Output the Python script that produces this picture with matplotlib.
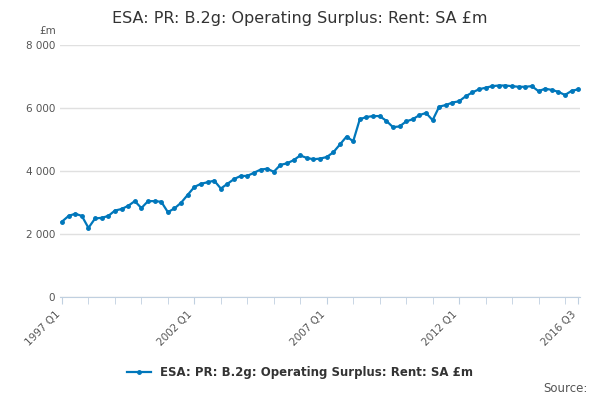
import numpy as np
import matplotlib
matplotlib.use("Agg")
import matplotlib.pyplot as plt

values = [2400, 2580, 2650, 2580,
          2200, 2500, 2520, 2580,
          2750, 2800, 2900, 3050,
          2830, 3050, 3050, 3030,
          2700, 2820, 3000, 3250,
          3500, 3600, 3650, 3700,
          3450, 3600, 3750, 3850,
          3850, 3950, 4050, 4080,
          3980, 4200, 4250, 4350,
          4500, 4420, 4380, 4400,
          4450, 4600, 4850, 5100,
          4950, 5650, 5720, 5750,
          5750, 5600, 5400, 5420,
          5580, 5650, 5780, 5850,
          5620, 6050, 6100, 6180,
          6220, 6380, 6500, 6600,
          6650, 6700, 6720, 6720,
          6700, 6680, 6680, 6700,
          6540, 6620, 6580, 6520,
          6420, 6550, 6600]
tick_pos = [0, 20, 40, 60, 78]
tick_labels = ["1997 Q1", "2002 Q1", "2007 Q1", "2012 Q1", "2016 Q3"]
series_name = "ESA: PR: B.2g: Operating Surplus: Rent: SA £m"

fig = plt.figure(figsize=(6, 4), dpi=100)
ax = fig.add_axes([0.1, 0.257, 0.867, 0.63])
x = np.arange(len(values))
ax.plot(x, values, color="#0077bb", lw=1.6, marker="o", ms=2.5, label=series_name)

ax.set_ylim(0, 8000)
ax.set_xlim(-0.3, 78.3)
ax.set_yticks([0, 2000, 4000, 6000, 8000])
ax.set_yticklabels(["0", "2 000", "4 000", "6 000", "8 000"], fontsize=7.5, color="#555555")
ax.set_xticks(tick_pos)
ax.set_xticklabels(tick_labels, rotation=45, ha="right", fontsize=7.5, color="#555555")
ax.set_xticks(range(0, 79, 4), minor=True)
ax.grid(True, axis="y", color="#e0e0e0", lw=1)
ax.tick_params(axis="y", length=0)
ax.tick_params(axis="x", which="both", length=5, color="#c0d0e0")
for s in ["top", "right", "left"]:
    ax.spines[s].set_visible(False)
ax.spines["bottom"].set_color("#c0d0e0")

fig.text(0.5, 0.953, series_name, ha="center", va="center", fontsize=11.5, color="#333333")
fig.text(0.065, 0.915, "£m", fontsize=7.5, color="#555555")
fig.legend(loc="center", bbox_to_anchor=(0.5, 0.068), frameon=False,
           prop={"size": 8.5, "weight": "bold"}, labelcolor="#333333")
fig.text(0.98, 0.02, "Source:", ha="right", fontsize=8.5, color="#555555")

fig.savefig("out.png", dpi=100)
